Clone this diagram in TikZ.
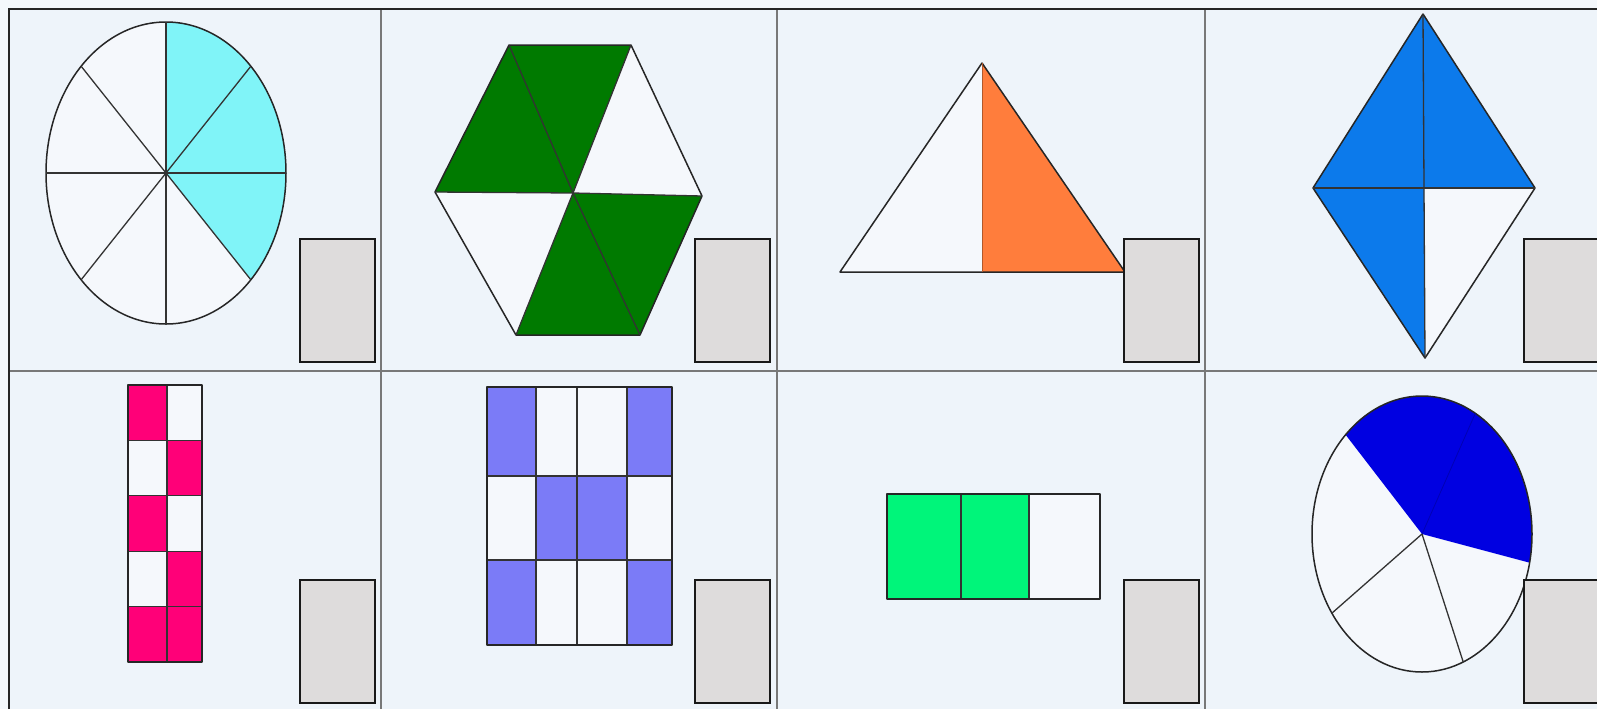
\documentclass[tikz,border=0pt]{standalone}
\usepackage{tikz}
\definecolor{pagebg}{RGB}{244,248,252}
\definecolor{panelbg}{RGB}{238,244,250}
\definecolor{cellwhite}{RGB}{245,248,252}
\definecolor{cyanf}{RGB}{128,244,248}
\definecolor{greenf}{RGB}{0,122,0}
\definecolor{orangef}{RGB}{255,125,60}
\definecolor{bluef}{RGB}{12,122,235}
\definecolor{pinkf}{RGB}{255,0,120}
\definecolor{violetf}{RGB}{123,123,247}
\definecolor{mintf}{RGB}{0,245,122}
\definecolor{deepblue}{RGB}{0,0,225}
\definecolor{boxgray}{RGB}{222,220,220}
\definecolor{divgray}{RGB}{120,120,120}
\tikzset{
  shapeline/.style={draw=black!85, line width=0.75pt, line join=round},
  thinline/.style={draw=black!80, line width=0.65pt},
  answerbox/.style={fill=boxgray, draw=black!90, line width=1.1pt},
  divider/.style={draw=divgray, line width=0.7pt},
  frameline/.style={draw=black!85, line width=1.1pt}
}
\begin{document}
\begin{tikzpicture}[x=0.5pt,y=-0.5pt]
\useasboundingbox (0,0) rectangle (1597,709);
\fill[pagebg] (0,0) rectangle (1597,709);
\fill[panelbg] (9,9) rectangle (1597,709);
% frame and dividers
\draw[divider] (381,9) -- (381,709);
\draw[divider] (777,9) -- (777,709);
\draw[divider] (1205,9) -- (1205,709);
\draw[divider] (9,371) -- (1597,371);
\draw[frameline] (9,709) -- (9,9) -- (1597,9);

% ---------- panel 1: ellipse in eighths ----------
\fill[cellwhite] (166,173) ellipse [x radius=120, y radius=151];
\fill[cyanf] (166,173) -- plot[domain=90:-45, samples=50, variable=\t] ({166+120*cos(\t)},{173-151*sin(\t)}) -- cycle;
\draw[shapeline] (166,173) ellipse [x radius=120, y radius=151];
\foreach \a in {0,45,90,135} {
  \draw[thinline] ({166+120*cos(\a)},{173-151*sin(\a)}) -- ({166-120*cos(\a)},{173+151*sin(\a)});
}
\draw[answerbox] (300,239) rectangle (375,362);

% ---------- panel 2: hexagon ----------
\coordinate (hTL) at (509,45);
\coordinate (hTR) at (631,45);
\coordinate (hL) at (435,192);
\coordinate (hR) at (702,196);
\coordinate (hBL) at (516,335);
\coordinate (hBR) at (640,335);
\coordinate (hC) at (573,193);
\fill[cellwhite] (hTL) -- (hTR) -- (hR) -- (hBR) -- (hBL) -- (hL) -- cycle;
\fill[greenf] (hL) -- (hTL) -- (hTR) -- (hC) -- cycle;
\fill[greenf] (hC) -- (hR) -- (hBR) -- (hBL) -- cycle;
\draw[shapeline] (hTL) -- (hTR) -- (hR) -- (hBR) -- (hBL) -- (hL) -- cycle;
\draw[thinline] (hL) -- (hC) -- (hR);
\draw[thinline] (hTL) -- (hC) -- (hBR);
\draw[thinline] (hTR) -- (hC) -- (hBL);
\draw[answerbox] (695,239) rectangle (770,362);

% ---------- panel 3: triangle ----------
\coordinate (tA) at (982,63);
\coordinate (tL) at (840,272);
\coordinate (tR) at (1125,272);
\coordinate (tF) at (982,272);
\fill[cellwhite] (tA) -- (tL) -- (tR) -- cycle;
\fill[orangef] (tA) -- (tF) -- (tR) -- cycle;
\draw[shapeline] (tA) -- (tL) -- (tR) -- cycle;
\draw[draw=orangef!70!black, line width=0.5pt] (tA) -- (tF);
\draw[answerbox] (1124,239) rectangle (1199,362);

% ---------- panel 4: rhombus ----------
\coordinate (rT) at (1423,14);
\coordinate (rL) at (1313,188);
\coordinate (rR) at (1535,188);
\coordinate (rB) at (1425,358);
\coordinate (rC) at (1424,188);
\fill[cellwhite] (rT) -- (rR) -- (rB) -- (rL) -- cycle;
\fill[bluef] (rL) -- (rT) -- (rR) -- (rC) -- (rB) -- cycle;
\draw[shapeline] (rT) -- (rR) -- (rB) -- (rL) -- cycle;
\draw[thinline] (rT) -- (rC) -- (rB);
\draw[thinline] (rL) -- (rR);
\draw[answerbox] (1524,239) rectangle (1600,362);

% ---------- panel 5: 2x5 grid ----------
\foreach \r/\ca/\cb in {0/pinkf/cellwhite,1/cellwhite/pinkf,2/pinkf/cellwhite,3/cellwhite/pinkf,4/pinkf/pinkf} {
  \fill[\ca] (128,{385+55.4*\r}) rectangle (167,{385+55.4*(\r+1)});
  \fill[\cb] (167,{385+55.4*\r}) rectangle (202,{385+55.4*(\r+1)});
}
\foreach \r in {1,2,3,4} { \draw[thinline] (128,{385+55.4*\r}) -- (202,{385+55.4*\r}); }
\draw[thinline] (167,385) -- (167,662);
\draw[shapeline] (128,385) rectangle (202,662);
\draw[answerbox] (300,580) rectangle (375,703);

% ---------- panel 6: 4x3 grid ----------
\fill[cellwhite] (487,387) rectangle (672,645);
\fill[violetf] (487,387) rectangle (536,476);
\fill[violetf] (627,387) rectangle (672,476);
\fill[violetf] (536,476) rectangle (627,560);
\fill[violetf] (487,560) rectangle (536,645);
\fill[violetf] (627,560) rectangle (672,645);
\draw[thinline] (536,387) -- (536,645);
\draw[thinline] (577,387) -- (577,645);
\draw[thinline] (627,387) -- (627,645);
\draw[thinline] (487,476) -- (672,476);
\draw[thinline] (487,560) -- (672,560);
\draw[shapeline] (487,387) rectangle (672,645);
\draw[answerbox] (695,580) rectangle (770,703);

% ---------- panel 7: thirds bar ----------
\fill[cellwhite] (887,494) rectangle (1100,599);
\fill[mintf] (887,494) rectangle (1029,599);
\draw[thinline] (961,494) -- (961,599);
\draw[thinline] (1029,494) -- (1029,599);
\draw[shapeline] (887,494) rectangle (1100,599);
\draw[answerbox] (1124,580) rectangle (1199,703);

% ---------- panel 8: ellipse in fifths ----------
\fill[cellwhite] (1422,534) ellipse [x radius=110, y radius=138];
\fill[deepblue] (1422,534) -- plot[domain=134:-12, samples=50, variable=\t] ({1422+110*cos(\t)},{534-138*sin(\t)}) -- cycle;
\draw[shapeline] (1422,534) ellipse [x radius=110, y radius=138];
\draw[draw=deepblue!80!black, line width=0.4pt] (1422,534) -- ({1422+110*cos(61)},{534-138*sin(61)});
\foreach \a in {-68,-145} {
  \draw[thinline] (1422,534) -- ({1422+110*cos(\a)},{534-138*sin(\a)});
}
\draw[answerbox] (1524,580) rectangle (1600,703);
\end{tikzpicture}
\end{document}
